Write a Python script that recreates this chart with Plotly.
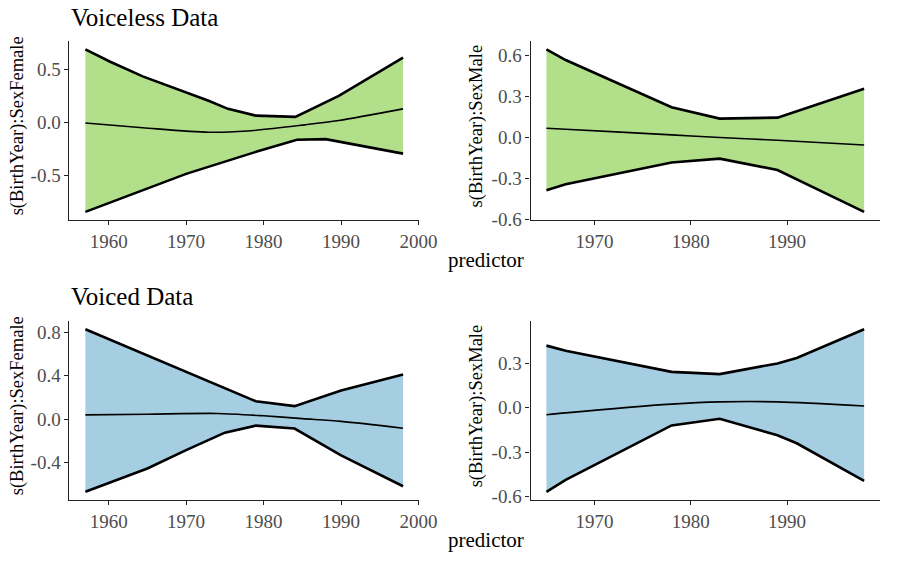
import plotly.graph_objects as go

W, H = 899, 561

# ---- data ----
vl_f_year  = [1957, 1960.2, 1964.4, 1968.6, 1972.9, 1975.4, 1979, 1984.1, 1987.2, 1989.7, 1998]
vl_f_upper = [0.688, 0.571, 0.433, 0.317, 0.203, 0.126, 0.062, 0.050, 0.157, 0.249, 0.611]
vl_f_mid_year = [1957, 1964.4, 1972.9, 1977.9, 1985.3, 1989.7, 1998]
vl_f_mid   = [-0.008, -0.052, -0.095, -0.083, -0.025, 0.016, 0.126]
vl_f_low_year = [1957, 1970, 1978.8, 1984.3, 1988, 1998]
vl_f_lower = [-0.847, -0.488, -0.285, -0.166, -0.160, -0.297]

vl_m_year  = [1965, 1967, 1978, 1983, 1989, 1998]
vl_m_upper = [0.645, 0.567, 0.221, 0.138, 0.145, 0.357]
vl_m_mid   = [0.067, 0.060, 0.019, 0.000, -0.021, -0.055]
vl_m_lower = [-0.386, -0.343, -0.183, -0.155, -0.238, -0.545]

vd_f_up_year = [1957, 1979, 1984, 1990, 1998]
vd_f_upper = [0.826, 0.164, 0.119, 0.262, 0.410]
vd_f_mid_year = [1957, 1965, 1974, 1980, 1985, 1990, 1998]
vd_f_mid   = [0.039, 0.045, 0.052, 0.030, 0.004, -0.021, -0.084]
vd_f_low_year = [1957, 1965, 1970, 1975, 1979, 1984, 1990, 1998]
vd_f_lower = [-0.669, -0.454, -0.285, -0.125, -0.06, -0.087, -0.334, -0.618]

vd_m_year  = [1965, 1967, 1978, 1983, 1989, 1991, 1998]
vd_m_upper = [0.418, 0.383, 0.241, 0.226, 0.298, 0.335, 0.528]
vd_m_mid_year = [1965, 1967, 1978, 1983, 1989, 1998]
vd_m_mid   = [-0.048, -0.035, 0.024, 0.039, 0.039, 0.011]
vd_m_lower = [-0.567, -0.486, -0.12, -0.075, -0.186, -0.24, -0.493]

titles = ["Voiceless Data", "Voiced Data"]
ylabels = ["s(BirthYear):SexFemale", "s(BirthYear):SexMale"]
x_label = "predictor"

GREEN = "#b2df8a"
BLUE = "#a6cee3"
FONT = "Liberation Serif, Times New Roman, serif"

# panel pixel boxes: (x0, x1, ytop, ybottom)
boxes = [(71, 428, 42, 224), (542, 899, 42, 224),
         (71, 428, 327, 509), (542, 899, 327, 509)]

fig = go.Figure()

def xd(b):
    return [b[0] / W, b[1] / W]

def yd(b):
    return [1 - b[3] / H, 1 - b[2] / H]

panels = [
    (vl_f_year, vl_f_upper, vl_f_low_year, vl_f_lower, vl_f_mid_year, vl_f_mid, GREEN),
    (vl_m_year, vl_m_upper, vl_m_year, vl_m_lower, vl_m_year, vl_m_mid, GREEN),
    (vd_f_up_year, vd_f_upper, vd_f_low_year, vd_f_lower, vd_f_mid_year, vd_f_mid, BLUE),
    (vd_m_year, vd_m_upper, vd_m_year, vd_m_lower, vd_m_mid_year, vd_m_mid, BLUE),
]

yticks = [[-0.5, 0.0, 0.5], [-0.6, -0.3, 0.0, 0.3, 0.6],
          [-0.4, 0.0, 0.4, 0.8], [-0.6, -0.3, 0.0, 0.3]]
ytexts = [["-0.5", "0.0", "0.5"], ["-0.6", "-0.3", "0.0", "0.3", "0.6"],
          ["-0.4", "0.0", "0.4", "0.8"], ["-0.6", "-0.3", "0.0", "0.3"]]
xticks = [[1960, 1970, 1980, 1990, 2000], [1970, 1980, 1990],
          [1960, 1970, 1980, 1990, 2000], [1970, 1980, 1990]]

for i, (ux, uy, lx, ly, mx, my, col) in enumerate(panels):
    n = i + 1
    xa = "x" if n == 1 else f"x{n}"
    ya = "y" if n == 1 else f"y{n}"
    px = list(ux) + list(lx)[::-1]
    py = list(uy) + list(ly)[::-1]
    fig.add_trace(go.Scatter(x=px, y=py, fill="toself", fillcolor=col,
                             line=dict(width=0), mode="lines",
                             xaxis=xa, yaxis=ya, showlegend=False, hoverinfo="skip"))
    fig.add_trace(go.Scatter(x=ux, y=uy, mode="lines", line=dict(color="black", width=2.6),
                             xaxis=xa, yaxis=ya, showlegend=False))
    fig.add_trace(go.Scatter(x=lx, y=ly, mode="lines", line=dict(color="black", width=2.6),
                             xaxis=xa, yaxis=ya, showlegend=False))
    fig.add_trace(go.Scatter(x=mx, y=my, mode="lines",
                             line=dict(color="black", width=1.6, shape="spline", smoothing=0.8),
                             xaxis=xa, yaxis=ya, showlegend=False))

    allx = list(ux) + list(lx)
    ally = list(uy) + list(ly)
    xmin, xmax = min(allx), max(allx)
    ymin, ymax = min(ally), max(ally)
    ex = (xmax - xmin) * 0.05
    ey = (ymax - ymin) * 0.05
    b = boxes[i]
    axis_common = dict(showgrid=False, zeroline=False, showline=True, linecolor="#222222",
                       linewidth=1.1, ticks="outside", ticklen=4, tickcolor="#222222",
                       tickfont=dict(family=FONT, size=19, color="#4d4d4d"))
    fig.layout[("xaxis" if n == 1 else f"xaxis{n}")] = dict(
        domain=xd(b), anchor=ya, range=[xmin - ex, xmax + ex],
        tickvals=xticks[i], ticktext=[str(v) for v in xticks[i]], **axis_common)
    fig.layout[("yaxis" if n == 1 else f"yaxis{n}")] = dict(
        domain=yd(b), anchor=xa, range=[ymin - ey, ymax + ey],
        tickvals=yticks[i], ticktext=ytexts[i], **axis_common)

annots = []
annots.append(dict(text=titles[0], x=71 / W, y=1 - 18 / H, xref="paper", yref="paper",
                   xanchor="left", yanchor="middle", showarrow=False,
                   font=dict(family=FONT, size=25, color="black")))
annots.append(dict(text=titles[1], x=71 / W, y=1 - 302 / H, xref="paper", yref="paper",
                   xanchor="left", yanchor="middle", showarrow=False,
                   font=dict(family=FONT, size=25, color="black")))
for yy in (265, 550):
    annots.append(dict(text=x_label, x=496 / W, y=1 - yy / H, xref="paper", yref="paper",
                       xanchor="center", yanchor="middle", showarrow=False,
                       font=dict(family=FONT, size=21, color="black")))
for (xx, yy, t) in [(18, 128, ylabels[0]), (487, 128, ylabels[1]),
                    (18, 413, ylabels[0]), (487, 413, ylabels[1])]:
    annots.append(dict(text=t, x=xx / W, y=1 - yy / H, xref="paper", yref="paper",
                       xanchor="center", yanchor="middle", showarrow=False, textangle=-90,
                       font=dict(family=FONT, size=18.5, color="black")))

fig.update_layout(width=W, height=H, margin=dict(l=0, r=0, t=0, b=0),
                  paper_bgcolor="white", plot_bgcolor="white",
                  annotations=annots, showlegend=False)

fig.write_html("out.html")
